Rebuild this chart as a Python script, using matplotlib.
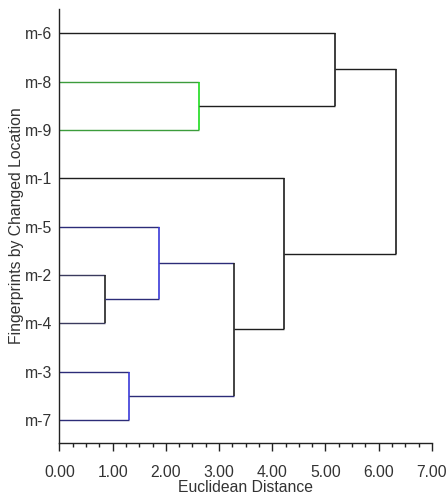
import matplotlib
matplotlib.use('Agg')
import matplotlib.pyplot as plt
from matplotlib.ticker import MultipleLocator

plt.rcParams['font.family'] = ['Liberation Sans', 'DejaVu Sans']

# hojas del dendrograma (de arriba hacia abajo)
leaves = ['m-6', 'm-8', 'm-9', 'm-1', 'm-5', 'm-2', 'm-4', 'm-3', 'm-7']

# uniones: hijo izquierdo, hijo derecho, distancia, nombre del nuevo cluster
merge_left = ['m-8', 'm-2', 'm-3', 'm-5', 'D', 'm-6', 'm-1', 'F']
merge_right = ['m-9', 'm-4', 'm-7', 'B', 'C', 'A', 'E', 'G']
merge_height = [2.62, 0.86, 1.31, 1.87, 3.29, 5.18, 4.22, 6.33]
merge_name = ['A', 'B', 'C', 'D', 'E', 'F', 'G', 'H']

xticks = [0, 1, 2, 3, 4, 5, 6, 7]

# colores (horizontal, vertical) de cada union
link_colors = [
    ('#3c9c3c', '#1fdc1f'),
    ('#3a3a5e', '#222222'),
    ('#2c2c78', '#3a3ad8'),
    ('#2c2c78', '#3a3ad8'),
    ('#2c2c78', '#222222'),
    ('#1e1e1e', '#1e1e1e'),
    ('#1e1e1e', '#1e1e1e'),
    ('#1e1e1e', '#1e1e1e'),
]

fig = plt.figure(figsize=(4.47, 4.97), dpi=100)
ax = fig.add_axes([0.133, 0.109, 0.833, 0.873])

ypos = {name: i + 1 for i, name in enumerate(leaves)}
xpos = {name: 0.0 for name in leaves}

for l, r, h, n, (ch, cv) in zip(merge_left, merge_right, merge_height, merge_name, link_colors):
    yl, yr = ypos[l], ypos[r]
    ax.plot([xpos[l], h], [yl, yl], color=ch, lw=1.0, solid_capstyle='butt')
    ax.plot([xpos[r], h], [yr, yr], color=ch, lw=1.0, solid_capstyle='butt')
    ax.plot([h, h], [yl, yr], color=cv, lw=1.2, solid_capstyle='butt')
    ypos[n] = (yl + yr) / 2
    xpos[n] = h

ax.set_xlim(0, 7)
ax.set_ylim(9.47, 0.5)

ax.set_yticks(range(1, len(leaves) + 1))
ax.set_yticklabels(leaves)
ax.set_xticks(xticks)
ax.set_xticklabels(['%.2f' % v for v in xticks])
ax.xaxis.set_minor_locator(MultipleLocator(0.25))

fs = 11.3
ax.tick_params(axis='y', length=0, pad=5, labelsize=fs, labelcolor='#333333')
ax.tick_params(axis='x', which='major', length=6, width=1, pad=10, labelsize=fs,
               labelcolor='#333333', color='#222222')
ax.tick_params(axis='x', which='minor', length=3, width=1, color='#222222')

for s in ['top', 'right']:
    ax.spines[s].set_visible(False)
for s in ['left', 'bottom']:
    ax.spines[s].set_color('#222222')
    ax.spines[s].set_linewidth(1.0)

ax.set_xlabel('Euclidean Distance', fontsize=fs, color='#333333', labelpad=0)
ax.set_ylabel('Fingerprints by Changed Location', fontsize=fs, color='#333333', labelpad=1)

fig.savefig('out.png', dpi=100)
